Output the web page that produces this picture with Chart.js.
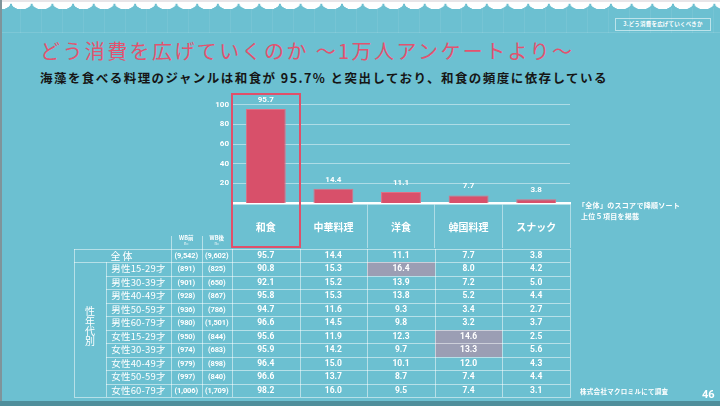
<!DOCTYPE html>
<html>
<head>
<meta charset="utf-8">
<script src="https://cdn.jsdelivr.net/npm/chart.js@4.4.1/dist/chart.umd.min.js"></script>
<style>
  html, body { margin: 0; padding: 0; }
  body {
    width: 720px; height: 406px; position: relative; overflow: hidden;
    background: #6cc0d1; color: #fff;
    font-family: "Noto Sans CJK JP", sans-serif;
  }
  .abs { position: absolute; }
  #stripes {
    left: 0; top: 8px; width: 720px; height: 24px;
    background: repeating-linear-gradient(90deg, transparent 0 20px, rgba(255,255,255,0.07) 20px 21px);
    border-bottom: 1px solid rgba(255,255,255,0.12);
  }
  #scallop {
    left: 0; top: 0; width: 720px; height: 12px;
    background:
      radial-gradient(ellipse 10.4px 7.5px at 50% 0, #fff 96%, rgba(255,255,255,0) 100%) 11px 2px / 20.7px 10px repeat-x,
      linear-gradient(#e8e5e8, #e8e5e8) 0 0 / 720px 2px no-repeat;
  }
  #leftEdge { left: 0; top: 0; width: 2px; height: 406px; background: #7f949a; }
  #bottomEdge { left: 0; top: 401px; width: 720px; height: 5px; background: #4f8e9b; }
  #tag {
    left: 615px; top: 18px; width: 94px; height: 11px; border: 1px solid rgba(255,255,255,0.55);
    font-size: 5.5px; font-weight: bold; line-height: 11px; text-align: center; letter-spacing: 0.2px;
  }
  #title {
    left: 40px; top: 36px; font-size: 20px; color: #e2536f; letter-spacing: 2.4px; white-space: nowrap;
  }
  #subtitle {
    left: 40px; top: 68px; font-size: 12.5px; font-weight: bold; color: #161616; letter-spacing: 1.45px; white-space: nowrap;
  }
  #c { position: absolute; left: 0; top: 0; }
  #redBox { left: 231px; top: 93px; width: 66px; height: 151px; border: 2px solid #e0506a; }
  .note { font-size: 7px; font-weight: bold; white-space: nowrap; letter-spacing: 0.3px; }
  .ln { position: absolute; background: rgba(255,255,255,0.5); }
  .cell { position: absolute; text-align: center; white-space: nowrap; }
  .num { font-family: Roboto, sans-serif; font-weight: bold; font-size: 8.5px; }
  .num.n { font-size: 7.5px; letter-spacing: -0.1px; }
  .lab { font-size: 9.5px; letter-spacing: 0.2px; }
  .hl { position: absolute; background: #9b9eb4; }
</style>
</head>
<body>
<div id="stripes" class="abs"></div>
<div id="scallop" class="abs"></div>
<div id="leftEdge" class="abs"></div>
<div id="bottomEdge" class="abs"></div>
<div id="tag" class="abs">3.どう消費を広げていくべきか</div>
<div id="title" class="abs">どう消費を広げていくのか ～1万人アンケートより～</div>
<div id="subtitle" class="abs">海藻を食べる料理のジャンルは和食が 95.7% と突出しており、和食の頻度に依存している</div>
<canvas id="c" width="720" height="406"></canvas>
<div id="table"></div>
<div id="redBox" class="abs"></div>
<div class="abs note" style="left:578px;top:200px">「全体」のスコアで降順ソート</div>
<div class="abs note" style="left:581px;top:211px">上位５項目を掲載</div>
<div class="abs note" style="left:580px;top:386px;font-size:6.5px">株式会社マクロミルにて調査</div>
<div class="abs" style="left:702px;top:388px;font-family:Roboto,sans-serif;font-weight:bold;font-size:11px">46</div>

<script>
// bar chart: "全体" score per genre (%)
const categories = ["和食", "中華料理", "洋食", "韓国料理", "スナック"];
const overallScores = [95.7, 14.4, 11.1, 7.7, 3.8];
const yTicks = [20, 40, 60, 80, 100];

// table below the chart
const rowLabels = ["全体", "男性15-29才", "男性30-39才", "男性40-49才", "男性50-59才", "男性60-79才",
  "女性15-29才", "女性30-39才", "女性40-49才", "女性50-59才", "女性60-79才"];
const sampleBefore = ["(9,542)", "(891)", "(901)", "(928)", "(936)", "(980)", "(950)", "(974)", "(979)", "(997)", "(1,006)"];
const sampleAfter = ["(9,602)", "(825)", "(650)", "(867)", "(786)", "(1,501)", "(844)", "(683)", "(898)", "(840)", "(1,709)"];
const washoku = [95.7, 90.8, 92.1, 95.8, 94.7, 96.6, 95.6, 95.9, 96.4, 96.6, 98.2];
const chuka = [14.4, 15.3, 15.2, 15.3, 11.6, 14.5, 11.9, 14.2, 15.0, 13.7, 16.0];
const yoshoku = [11.1, 16.4, 13.9, 13.8, 9.3, 9.8, 12.3, 9.7, 10.1, 8.7, 9.5];
const kankoku = [7.7, 8.0, 7.2, 5.2, 3.4, 3.2, 14.6, 13.3, 12.0, 7.4, 7.4];
const snack = [3.8, 4.2, 5.0, 4.4, 2.7, 3.7, 2.5, 5.6, 4.3, 4.4, 3.1];
const highlights = [[1, 2], [6, 3], [7, 3]]; // [row, column]

const valueLabels = {
  id: "valueLabels",
  afterDatasetsDraw(chart) {
    const ctx = chart.ctx;
    ctx.save();
    ctx.fillStyle = "#fff";
    ctx.font = "bold 8px Roboto";
    ctx.textAlign = "center";
    ctx.textBaseline = "alphabetic";
    chart.getDatasetMeta(0).data.forEach((bar, i) => {
      ctx.fillText(overallScores[i].toFixed(1), bar.x, bar.y - 7);
    });
    ctx.restore();
  },
};

const chart = new Chart(document.getElementById("c"), {
  type: "bar",
  data: {
    labels: categories,
    datasets: [
      {
        data: overallScores,
        backgroundColor: "#d8506a",
        borderColor: "#e06f84",
        borderWidth: 1,
        barPercentage: 0.59,
        categoryPercentage: 1,
      },
    ],
  },
  options: {
    responsive: false,
    animation: false,
    layout: { padding: { left: 200, right: 150, top: 97, bottom: 158 } },
    plugins: { legend: { display: false }, tooltip: { enabled: false } },
    scales: {
      x: {
        afterFit: (s) => { s.height = 45; },
        grid: { drawOnChartArea: false, drawTicks: true, tickLength: 45, offset: true, color: "rgba(255,255,255,0.45)" },
        border: { color: "#fff", width: 2.5 },
        ticks: {
          color: "#fff",
          padding: -27,
          maxRotation: 0,
          font: { family: '"Noto Sans CJK JP"', size: 10, weight: "bold" },
        },
      },
      y: {
        min: 0,
        max: 108,
        afterFit: (s) => { s.width = 32; },
        afterBuildTicks: (s) => { s.ticks = yTicks.map((v) => ({ value: v })); },
        grid: { drawTicks: false, color: "rgba(255,255,255,0.45)" },
        border: { display: false },
        ticks: { color: "#fff", padding: 3, font: { family: "Roboto", size: 8, weight: "bold" } },
      },
    },
  },
  plugins: [valueLabels],
});

// build the table, data columns lined up with the x scale
const table = document.getElementById("table");
const xs = chart.scales.x;
const colW = (xs.right - xs.left) / categories.length;
const dataCols = [washoku, chuka, yoshoku, kankoku, snack];
const tableTop = 249, rowH = 13.45, tableLeft = 74, groupR = 106, labelR = 171, beforeR = 201.5;
const tableBottom = tableTop + rowH * rowLabels.length;

function add(cls, x, y, w, h, txt, extra) {
  const d = document.createElement("div");
  d.className = cls;
  d.style.left = x + "px"; d.style.top = y + "px";
  d.style.width = w + "px"; d.style.height = h + "px";
  if (txt !== undefined) { d.textContent = txt; d.style.lineHeight = h + "px"; }
  if (extra) Object.assign(d.style, extra);
  table.appendChild(d);
}

highlights.forEach(([r, c]) => {
  add("hl", xs.left + c * colW, tableTop + r * rowH, colW, rowH);
});

// lines
add("ln", tableLeft, tableTop, xs.right - tableLeft, 1);
for (let r = 1; r < rowLabels.length; r++) {
  const x0 = r === 1 ? tableLeft : groupR;
  add("ln", x0, tableTop + r * rowH, xs.right - x0, 1);
}
add("ln", tableLeft, tableBottom, xs.right - tableLeft + 1, 1);
add("ln", tableLeft, tableTop, 1, tableBottom - tableTop);
add("ln", groupR, tableTop + rowH, 1, tableBottom - tableTop - rowH);
add("ln", labelR, 236, 1, tableBottom - 236);
add("ln", beforeR, 236, 1, tableBottom - 236);
for (let c = 0; c <= categories.length; c++) {
  add("ln", xs.left + c * colW, tableTop, 1, tableBottom - tableTop);
}

// header for sample sizes
add("cell", labelR, 234, beforeR - labelR, 8, "WB前", { fontSize: "5.5px", fontWeight: "bold" });
add("cell", beforeR, 234, xs.left - beforeR, 8, "WB後", { fontSize: "5.5px", fontWeight: "bold" });
add("cell", labelR, 241, beforeR - labelR, 5, "n=", { fontSize: "4px" });
add("cell", beforeR, 241, xs.left - beforeR, 5, "n=", { fontSize: "4px" });

// group label
add("cell", tableLeft, 306, groupR - tableLeft, 42, undefined,
  { fontSize: "10px", lineHeight: "10px" });
table.lastChild.innerHTML = "性<br>年<br>代<br>別";

rowLabels.forEach((lab, r) => {
  const y = tableTop + r * rowH;
  if (r === 0) add("cell lab", tableLeft, y, labelR - tableLeft, rowH, lab, { fontSize: "10px", letterSpacing: "2px" });
  else add("cell lab", groupR, y, labelR - groupR, rowH, lab);
  add("cell num n", labelR, y, beforeR - labelR, rowH, sampleBefore[r]);
  add("cell num n", beforeR, y, xs.left - beforeR, rowH, sampleAfter[r]);
  dataCols.forEach((col, c) => {
    add("cell num", xs.left + c * colW, y, colW, rowH, col[r].toFixed(1));
  });
});
</script>
</body>
</html>
